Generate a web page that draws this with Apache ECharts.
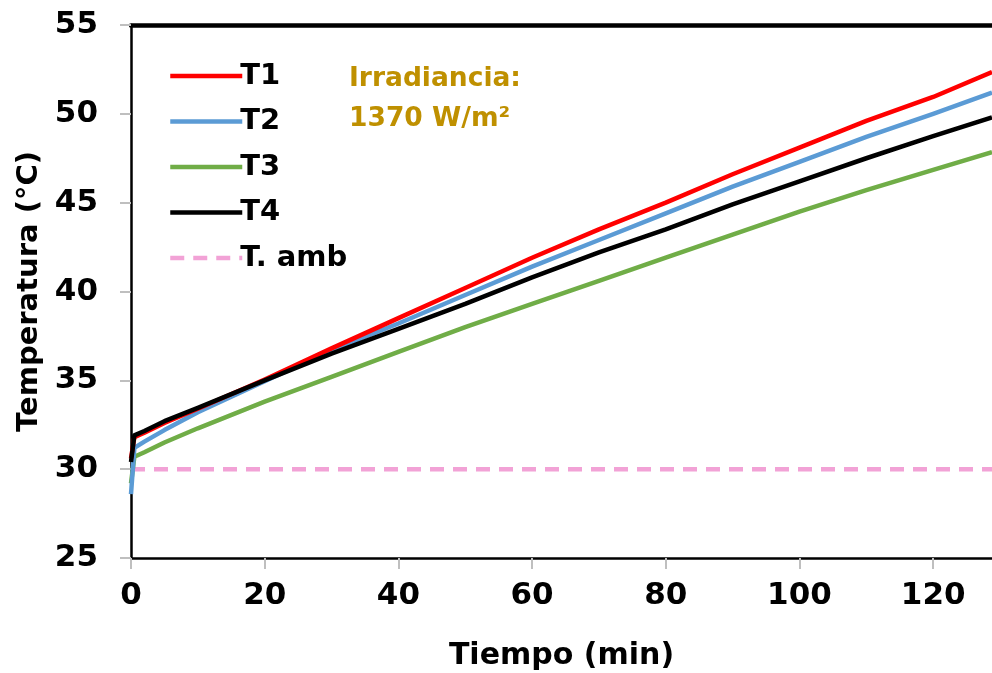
<!DOCTYPE html>
<html>
<head>
<meta charset="utf-8">
<script src="https://cdn.jsdelivr.net/npm/echarts@6/dist/echarts.min.js"></script>
<style>
  html, body { margin: 0; padding: 0; background: #fff; }
  #chart { width: 992px; height: 673px; }
</style>
</head>
<body>
<div id="chart"></div>
<script>
// time in minutes
const time = [0, 0.5, 2, 5, 10, 20, 30, 40, 50, 60, 70, 80, 90, 100, 110, 120, 128.8]
const t1 = [30.6, 31.8, 32.05, 32.6, 33.4, 35.05, 36.8, 38.5, 40.2, 41.9, 43.5, 45.0, 46.6, 48.1, 49.6, 50.95, 52.35]
const t2 = [28.6, 31.2, 31.55, 32.2, 33.2, 34.95, 36.7, 38.2, 39.8, 41.4, 42.9, 44.4, 45.9, 47.3, 48.7, 50.0, 51.2]
const t3 = [29.2, 30.7, 30.95, 31.5, 32.3, 33.8, 35.2, 36.6, 38.0, 39.3, 40.6, 41.9, 43.2, 44.5, 45.7, 46.85, 47.85]
const t4 = [30.4, 31.9, 32.15, 32.7, 33.45, 35.0, 36.5, 37.9, 39.3, 40.8, 42.2, 43.5, 44.9, 46.2, 47.5, 48.75, 49.8]
const ambTime = [0, 128.8]
const ambTemp = [30, 30]

const xTicks = { min: 0, max: 128.8, interval: 20 }
const yTicks = { min: 25, max: 55, interval: 5 }

const FONT = 'DejaVu Sans'
const zip = (xs, ys) => xs.map((x, i) => [x, ys[i]])

const lineSeries = (name, xs, ys, color, type) => ({
  name,
  type: 'line',
  symbol: 'none',
  data: zip(xs, ys),
  lineStyle: { color, width: 4.5, type: type || 'solid', join: 'round' },
  itemStyle: { color },
  z: 3,
})

const chart = echarts.init(document.getElementById('chart'))
chart.setOption({
  animation: false,
  grid: { left: 131, top: 25, right: 0, bottom: 115, outerBoundsMode: 'none' },
  legend: {
    orient: 'vertical',
    left: 163,
    top: 54,
    itemWidth: 72,
    itemHeight: 14,
    itemGap: 11.5,
    itemStyle: { opacity: 0 },
    lineStyle: { width: 4.5 },
    textStyle: { fontFamily: FONT, fontWeight: 'bold', fontSize: 29, color: '#000', lineHeight: 34, padding: [0, 0, 0, -7] },
    data: ['T1', 'T2', 'T3', 'T4', 'T. amb'],
  },
  xAxis: [
    {
      type: 'value',
      ...xTicks,
      name: 'Tiempo (min)',
      nameLocation: 'middle',
      nameGap: 83,
      nameTextStyle: { fontFamily: FONT, fontWeight: 'bold', fontSize: 30, color: '#000' },
      axisLine: { show: true, onZero: false, lineStyle: { color: '#000', width: 2.5 } },
      axisTick: { show: true, length: 11, lineStyle: { color: '#bfbfbf', width: 2 } },
      axisLabel: { fontFamily: FONT, fontWeight: 'bold', fontSize: 31, color: '#000', margin: 22, showMaxLabel: false },
      splitLine: { show: false },
    },
    {
      type: 'value',
      position: 'top',
      ...xTicks,
      axisLine: { show: true, onZero: false, lineStyle: { color: '#000', width: 4.5 } },
      axisTick: { show: false },
      axisLabel: { show: false },
      splitLine: { show: false },
    },
  ],
  yAxis: {
    type: 'value',
    ...yTicks,
    name: 'Temperatura (°C)',
    nameLocation: 'middle',
    nameGap: 80,
    nameTextStyle: { fontFamily: FONT, fontWeight: 'bold', fontSize: 29, color: '#000' },
    axisLine: { show: true, onZero: false, lineStyle: { color: '#000', width: 2.5 } },
    axisTick: { show: true, length: 11, lineStyle: { color: '#bfbfbf', width: 2 } },
    axisLabel: { fontFamily: FONT, fontWeight: 'bold', fontSize: 31, color: '#000', margin: 33 },
    splitLine: { show: false },
  },
  graphic: [
    {
      type: 'text',
      left: 349,
      top: 66,
      style: { text: 'Irradiancia:', fontFamily: FONT, fontWeight: 'bold', fontSize: 26.5, fill: '#BF9000' },
    },
    {
      type: 'text',
      left: 349,
      top: 106,
      style: { text: '1370 W/m²', fontFamily: FONT, fontWeight: 'bold', fontSize: 26.5, fill: '#BF9000' },
    },
  ],
  series: [
    lineSeries('T. amb', ambTime, ambTemp, '#F2A2D6', [14, 9]),
    lineSeries('T3', time, t3, '#70AD47'),
    lineSeries('T2', time, t2, '#5B9BD5'),
    lineSeries('T1', time, t1, '#FF0000'),
    lineSeries('T4', time, t4, '#000000'),
  ],
})
</script>
</body>
</html>
